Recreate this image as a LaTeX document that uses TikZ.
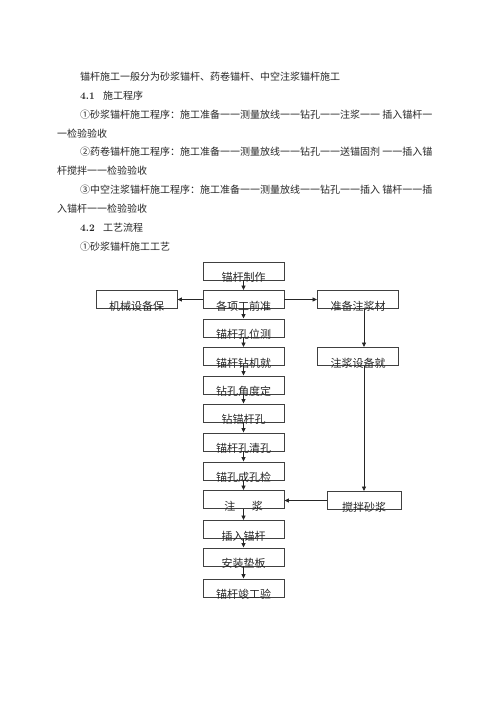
\documentclass[tikz,border=0pt]{standalone}
\usepackage{fontspec}
\usepackage{xcolor}
\usetikzlibrary{arrows.meta}
\newfontfamily\cjk{Noto Sans CJK SC}

\begin{document}
\begin{tikzpicture}[x=1pt,y=-1pt,
		txt/.style={anchor=base west, inner sep=0pt, font=\cjk\fontsize{10}{12}\selectfont, text=black!85},
		box/.style={draw=black!75, line width=0.9pt, minimum width=81pt, minimum height=18pt, inner sep=0pt},
		lbl/.style={anchor=center, yshift=3pt, inner sep=0pt, font=\cjk\fontsize{11}{13}\selectfont, text=black!85},
		arr/.style={-{Triangle[length=4.5pt,width=4pt]}, line width=0.8pt, draw=black!85}]
			\useasboundingbox (0,0) rectangle (500,707);
			
			% Text lines
			\node (t1) at (80,80.5) [txt] {锚杆施工一般分为砂浆锚杆、药卷锚杆、中空注浆锚杆施工};
			\node (t2) at (80,99.5) [txt] {\makebox[23pt][l]{\normalfont\bfseries 4.1}施工程序};
			\node (t3) at (80,118.2) [txt] {①砂浆锚杆施工程序：施工准备一一测量放线一一钻孔一一注浆一一 插入锚杆一};
			\node (t4) at (57,137.1) [txt] {一检验验收};
			\node (t5) at (80,155.9) [txt] {②药卷锚杆施工程序：施工准备一一测量放线一一钻孔一一送锚固剂 一一插入锚};
			\node (t6) at (57,174.8) [txt] {杆搅拌一一检验验收};
			\node (t7) at (80,193.6) [txt] {③中空注浆锚杆施工程序：施工准备一一测量放线一一钻孔一一插入 锚杆一一插};
			\node (t8) at (57,212.5) [txt] {入锚杆一一检验验收};
			\node (t9) at (80,231.3) [txt] {\makebox[23pt][l]{\normalfont\bfseries 4.2}工艺流程};
			\node (t10) at (80,250.2) [txt] {①砂浆锚杆施工工艺};
			
			% Main column
			\node (b1) at (243.5,271) [box, label={[lbl]south:锚杆制作}] {};
			\node (b2) at (243.5,299.5) [box, label={[lbl]south:各项工前准}] {};
			\node (b3) at (243.5,328) [box, label={[lbl]south:锚杆孔位测}] {};
			\node (b4) at (243.5,356.5) [box, label={[lbl]south:锚杆钻机就}] {};
			\node (b5) at (243.5,385) [box, label={[lbl]south:钻孔角度定}] {};
			\node (b6) at (243.5,413) [box, label={[lbl]south:钻锚杆孔}] {};
			\node (b7) at (243.5,442) [box, label={[lbl]south:锚杆孔清孔}] {};
			\node (b8) at (243.5,471) [box, label={[lbl]south:锚孔成孔检}] {};
			\node (b9) at (243.5,499.5) [box, label={[lbl]south:注\hspace{1.5em}浆}] {};
			\node (b10) at (243.5,529.5) [box, label={[lbl]south:插入锚杆}] {};
			\node (b11) at (243.5,557) [box, label={[lbl]south:安装垫板}] {};
			\node (b12) at (243.5,588) [box, label={[lbl]south:锚杆竣工验}] {};
			
			% Side boxes
			\node (s1) at (136.5,299.5) [box, label={[lbl]south:机械设备保}] {};
			\node (r1) at (358,299.5) [box, label={[lbl]south:准备注浆材}] {};
			\node (r2) at (358,356.5) [box, label={[lbl]south:注浆设备就}] {};
			\node (r3) at (364,500.5) [box, minimum width=74pt, label={[lbl]south:搅拌砂浆}] {};
			
			% Arrows down the main column
			\foreach \a/\b in {b1/b2,b2/b3,b3/b4,b4/b5,b5/b6,b6/b7,b7/b8,b8/b9,b9/b10,b10/b11,b11/b12}
				\draw[arr] (\a.south) -- (\b.north);
			
			\draw[arr] (b2.west) -- (s1.east);
			\draw[arr] (b2.east) -- (r1.west);
			\draw[arr] (r1.south -| r3.north) -- (r2.north -| r3.north);
			\draw[arr] (r2.south -| r3.north) -- (r3.north);
			\draw[arr] (r3.west) -- (r3.west -| b9.east);
		\end{tikzpicture}
\end{document}
